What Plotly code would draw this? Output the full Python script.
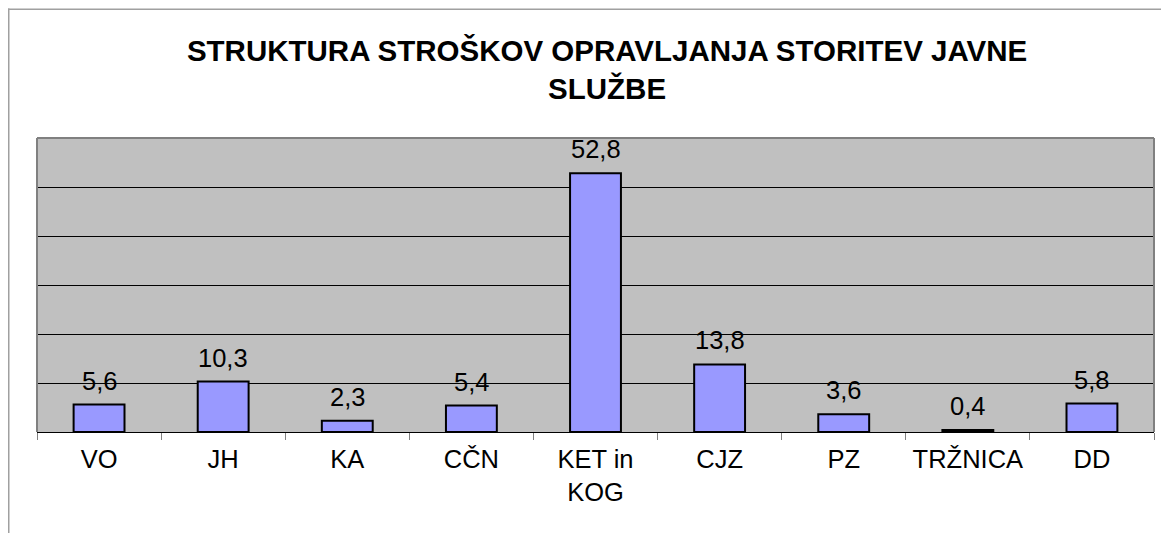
import plotly.graph_objects as go

categories = ["VO", "JH", "KA", "CČN", "KET in<br>KOG", "CJZ", "PZ", "TRŽNICA", "DD"]
values = [5.6, 10.3, 2.3, 5.4, 52.8, 13.8, 3.6, 0.4, 5.8]
labels = ["5,6", "10,3", "2,3", "5,4", "52,8", "13,8", "3,6", "0,4", "5,8"]
title_text = "STRUKTURA STROŠKOV OPRAVLJANJA STORITEV JAVNE<br>SLUŽBE"

FONT = "Liberation Sans, Arial, sans-serif"

fig = go.Figure()
fig.add_trace(go.Bar(
    x=categories, y=values,
    marker=dict(color="#9999FF", line=dict(color="black", width=2)),
    hoverinfo="skip",
))

for c, v, t in zip(categories, values, labels):
    fig.add_annotation(x=c, y=v, text=t, showarrow=False, yanchor="bottom",
                       yshift=8, font=dict(family=FONT, size=25.5, color="black"))

W, H = 1161, 525
ML, MR, MT, MB = 29, 15, 130, 101
fig.update_layout(
    width=W, height=H,
    margin=dict(l=ML, r=MR, t=MT, b=MB),
    paper_bgcolor="white", plot_bgcolor="#C0C0C0",
    bargap=0.59, showlegend=False,
    font=dict(family=FONT, size=25.5, color="black"),
    title=dict(text=title_text, x=0.516, xanchor="center", xref="container",
               y=0.9, yanchor="top", yref="container",
               font=dict(family=FONT, size=29.5, color="black", weight="bold")),
    xaxis=dict(type="category", tickson="boundaries", ticks="outside", ticklen=7,
               tickcolor="#808080", tickwidth=1, showgrid=False,
               showline=True, linecolor="black", linewidth=1,
               ticklabelstandoff=4,
               tickfont=dict(family=FONT, size=25.5, color="black")),
    yaxis=dict(range=[0, 60], dtick=10, showticklabels=False, ticks="",
               showgrid=True, gridcolor="black", gridwidth=1,
               zeroline=False, showline=False),
)

# plot-area border (gray) on left, top and right
for x0, x1, y0, y1 in [(0, 0, 0, 1), (0, 1, 1, 1), (1, 1, 0, 1)]:
    fig.add_shape(type="line", xref="paper", yref="paper", x0=x0, x1=x1, y0=y0, y1=y1,
                  line=dict(color="#808080", width=2))

# outer frame (figure edge)
pw = W - ML - MR
ph = H - MT - MB
def fx(px):
    return (px - ML) / pw
def fy(py):
    return 1 + (MT - py) / ph

fig.add_shape(type="rect", xref="paper", yref="paper",
              x0=fx(0), x1=fx(1.5), y0=fy(H), y1=fy(0.5),
              line=dict(width=0), fillcolor="#A0A0A0", layer="above")
fig.add_shape(type="line", xref="paper", yref="paper",
              x0=fx(0), x1=fx(W - 1), y0=fy(1.2), y1=fy(1.2),
              line=dict(color="#A0A0A0", width=1.5), layer="above")
# top frame line drawn also as a thin filled annotation box
fig.add_annotation(xref="paper", yref="paper", x=fx(0), y=fy(0.5),
                   xanchor="left", yanchor="top", text=" ", showarrow=False,
                   width=W - 2, height=1, bgcolor="#A0A0A0", borderpad=0,
                   borderwidth=0, font=dict(size=1))

fig.write_html("out.html")
